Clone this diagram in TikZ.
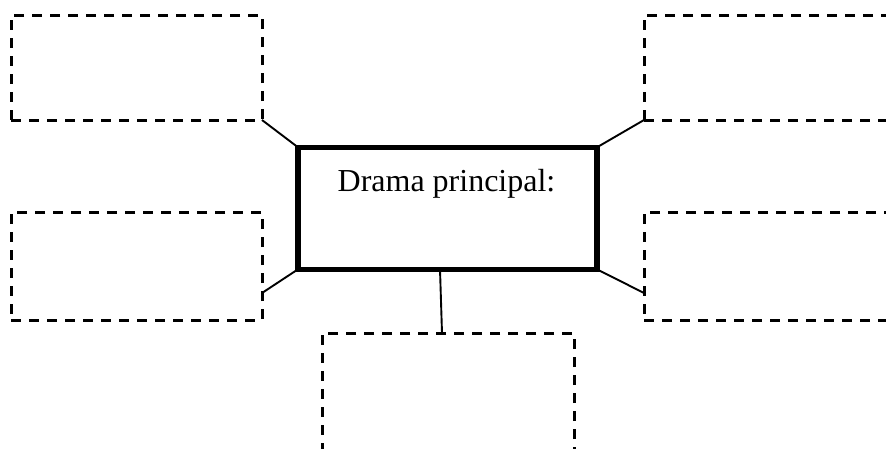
\documentclass[tikz,border=0pt]{standalone}
\usepackage{fontspec}
\setmainfont{Liberation Serif}
\usetikzlibrary{calc}
\begin{document}
\begin{tikzpicture}[x=1pt,y=-1pt,
  dashbox/.style={draw, line width=3pt, dash pattern=on 10pt off 8pt,
    minimum width=251pt, minimum height=108pt, inner sep=0pt, outer sep=0pt},
  mainbox/.style={draw, line width=5.6pt, minimum width=299pt,
    minimum height=122pt, inner sep=0pt, outer sep=0pt},
  link/.style={draw, line width=1.9pt},
  title/.style={font=\fontsize{32}{36}\selectfont, inner sep=0pt}]
  \useasboundingbox (0,0) rectangle (886,448);
  \clip (0,0) rectangle (886,448);

  % central box and its heading
  \node[mainbox] (main) at (447.5,208.3) {};
  \node[title, anchor=base] (head) at (446.5,191) {Drama principal:};

  % surrounding dashed boxes
  \node[dashbox, minimum height=105pt] (tl) at (136.5,67.5) {};
  \node[dashbox, minimum height=105pt] (tr) at (769.5,67.5) {};
  \node[dashbox] (ml) at (136.5,266) {};
  \node[dashbox] (mr) at (769.5,266) {};
  \node[dashbox, minimum width=252pt, minimum height=124pt] (bt) at (448,395) {};

  % attachment points on the box sides
  \coordinate (mlp) at ($(ml.south east)!0.25!(ml.north east)$);
  \coordinate (mrp) at ($(mr.south west)!0.25!(mr.north west)$);
  \coordinate (mbs) at ($(main.south)+(-7.5,0)$);
  \coordinate (btn) at ($(bt.north)+(-6,0)$);

  % connectors
  \draw[link] (tl.south east) -- (main.north west);
  \draw[link] (tr.south west) -- (main.north east);
  \draw[link] (mlp) -- (main.south west);
  \draw[link] (mrp) -- (main.south east);
  \draw[link] (mbs) -- (btn);
\end{tikzpicture}
\end{document}
